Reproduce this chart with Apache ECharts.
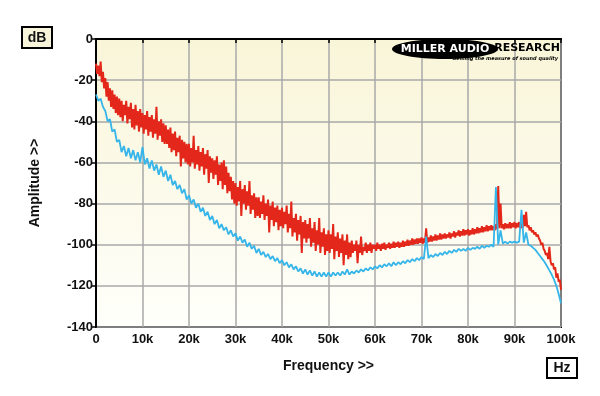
<!DOCTYPE html>
<html>
<head>
<meta charset="utf-8">
<script src="https://cdn.jsdelivr.net/npm/echarts@6/dist/echarts.min.js"></script>
<style>
html,body{margin:0;padding:0;background:#fff;}
#chart{width:600px;height:396px;}
</style>
</head>
<body>
<div id="chart"></div>
<script>
// red trace sampled every 0.25 kHz, blue every 0.5 kHz, 0 .. 100 kHz (dB)
var redStepKHz = 0.25;
var blueStepKHz = 0.5;
var redDb = [
 -12,-17,-13,-18,-11,-21,-16,-24,-19,-28,-21,-30,-24,-33,-25,-34,-27,-36,-28,-37,
 -29,-38,-30,-40,-32,-37,-30,-41,-33,-39,-31,-43,-34,-44,-32,-42,-35,-45,-34,-43,
 -36,-46,-37,-44,-35,-47,-38,-45,-37,-48,-39,-46,-33,-49,-40,-47,-39,-50,-41,-51,
 -42,-51,-44,-53,-43,-55,-46,-54,-45,-57,-48,-55,-47,-62,-49,-58,-50,-60,-51,-61,
 -51,-62,-53,-60,-47,-63,-54,-61,-52,-64,-55,-62,-53,-66,-56,-63,-54,-70,-57,-65,
 -58,-68,-59,-66,-57,-71,-61,-69,-60,-73,-59,-71,-62,-75,-65,-74,-67,-78,-69,-80,
 -70,-81,-72,-79,-69,-86,-73,-80,-71,-83,-74,-81,-69,-85,-76,-83,-75,-87,-77,-86,
 -77,-87,-79,-85,-76,-88,-80,-86,-78,-94,-81,-88,-79,-91,-82,-89,-81,-93,-83,-91,
 -82,-92,-84,-90,-81,-94,-85,-92,-79,-96,-87,-94,-85,-98,-88,-95,-86,-104,-89,-97,
 -88,-99,-90,-97,-87,-101,-92,-99,-89,-103,-93,-100,-87,-104,-94,-101,-92,-105,-95,-103,
 -93,-104,-95,-102,-90,-107,-96,-103,-94,-106,-97,-104,-95,-110,-98,-105,-95,-107,-99,-106,
 -98,-104,-100,-103,-98,-109,-100,-104,-96,-105,-101,-103,-99,-104,-100,-103,-99,-104,-100,-102,
 -100,-103,-99,-102,-100,-103,-99.5,-102,-99,-102.5,-100,-101.5,-99,-102,-99.5,-101.5,-98.5,-101.5,-99,-101,
 -98.5,-101.5,-99,-101,-98,-101,-98.5,-100.5,-97.5,-100.5,-98,-100,-97,-100,-97.5,-99.5,-97,-99.5,-97,-99,
 -96.5,-99.5,-97,-99,-92,-99,-96.5,-98.5,-95.5,-98.5,-96,-98,-95,-98,-95.5,-97.5,-94.5,-97.5,-95,-97,
 -94.5,-97,-95,-96.5,-94,-97,-94.5,-96,-93.5,-96.5,-94,-95.5,-93,-96,-93.5,-95.5,-92.5,-95.5,-93,-95,
 -92.5,-95.5,-93,-95,-92,-95,-92.5,-94.5,-91.5,-94.5,-92,-94,-91,-94,-91.5,-93.5,-90.5,-93.5,-91,-93,
 -90.5,-93,-91,-93,-90,-92.5,-71.5,-92,-80,-92,-90,-92.5,-89.5,-92,-90,-92,-89,-92,-89.5,-91.5,
 -89,-92,-89.5,-91.5,-89,-92,-89.5,-92,-85.5,-91,-84,-91.5,-90.5,-93,-91.5,-94,-93,-95,-94,-96,
 -95,-97,-98,-100,-99,-102,-103,-105,-104,-107,-101,-108,-110,-109,-112,-111,-116,-114,-118,-117,
 -122
];
var blueDb = [
 -27,-30,-29,-33,-35,-40,-39,-45,-44,-50,-49,-55,-52,-57,-53,-58,-54,-59,-55,-60,
 -52.5,-61,-58,-63,-59,-64,-61,-66,-62,-67,-64,-69,-66,-71,-69,-73,-71,-75,-73,-78,
 -76,-80,-78,-82,-80,-84,-82,-86,-84,-88,-86,-90,-88,-92,-90,-93,-91.5,-95,-93,-96,
 -94.5,-98,-96,-99,-97.5,-101,-99,-102,-100.5,-104,-102,-105,-103.5,-106,-104.5,-107,-105.5,-108,-106.5,-109,
 -107.5,-110,-108.5,-111,-109.5,-112,-110.5,-113,-111.5,-114,-112,-114.5,-112.5,-115,-113,-115.5,-113.5,-115.5,-113.5,-115.5,
 -113.5,-115.5,-113.5,-115,-113.5,-115,-113,-114.5,-112,-114.5,-113,-114,-112.5,-113.5,-112,-113,-111.5,-112.5,-111,-112,
 -110.5,-111.5,-110,-111,-109.5,-110.5,-109,-110.5,-108.5,-110,-108.5,-109.5,-108,-109,-107.5,-108.5,-107,-108,-106.5,-107.5,
 -106,-107,-96,-106.5,-105,-106,-104.5,-105.5,-104,-105,-103.5,-104.5,-103,-104,-102.5,-103.5,-102,-103,-102,-103,
 -101.5,-102.5,-101.5,-102,-101,-102,-100.5,-101.5,-100.5,-101,-100,-101,-72,-100,-93,-99.5,-98.5,-99.5,-98.5,-99,
 -98.5,-99,-98.5,-83,-99,-94,-100,-100.5,-101.5,-102.5,-104,-105.5,-107,-108.5,-110.5,-112.5,-114.5,-117,-120,-124,
 -128.5
];
var xTicks = ['0','10k','20k','30k','40k','50k','60k','70k','80k','90k','100k'];
var yTicks = [0,-20,-40,-60,-80,-100,-120,-140];

function pairs(arr, step){
	return arr.map(function(v,i){ return [i*step, v]; });
}

var labelFont = {color:'#111', fontWeight:'bold', fontSize:13, fontFamily:'Liberation Sans, Arial, sans-serif'};

var myChart = echarts.init(document.getElementById('chart'), null, {renderer:'canvas'});
myChart.setOption({
	animation:false,
	backgroundColor:'#fff',
	grid:{
		left:96, right:39, top:39, bottom:69,
		show:true,
		borderColor:'#000', borderWidth:2,
		backgroundColor: new echarts.graphic.LinearGradient(0,0,0,1,[
			{offset:0,color:'#f9f5d8'},
			{offset:1,color:'#fffffb'}
		])
	},
	xAxis:{
		type:'value', min:0, max:100, interval:10,
		name:'Frequency >>', nameLocation:'middle', nameGap:32,
		nameTextStyle:{color:'#111', fontWeight:'bold', fontSize:14, fontFamily:'Liberation Sans, Arial, sans-serif'},
		axisLine:{lineStyle:{color:'#000',width:2}},
		axisTick:{show:true, length:4, lineStyle:{color:'#000',width:1.5}},
		axisLabel:Object.assign({margin:6, formatter:function(v){ return xTicks[Math.round(v/10)]; }}, labelFont),
		splitLine:{show:true, lineStyle:{color:'#a8a8a8', width:1.5}}
	},
	yAxis:{
		type:'value', min:-140, max:0, interval:20,
		name:'Amplitude >>', nameLocation:'middle', nameGap:54, nameRotate:90,
		nameTextStyle:{color:'#111', fontWeight:'bold', fontSize:14, fontFamily:'Liberation Sans, Arial, sans-serif'},
		axisLine:{lineStyle:{color:'#000',width:2}},
		axisTick:{show:true, length:5, lineStyle:{color:'#000',width:1.5}},
		axisLabel:Object.assign({margin:3, formatter:function(v){ return yTicks.indexOf(v) >= 0 ? String(v) : ''; }}, labelFont),
		splitLine:{show:true, lineStyle:{color:'#a8a8a8', width:1.5}}
	},
	graphic:[
		{type:'rect', shape:{x:22,y:27,width:30,height:21}, style:{fill:'#f7f4da', stroke:'#000', lineWidth:2}},
		{type:'text', x:37, y:38, style:{text:'dB', fill:'#111', font:'bold 14px Liberation Sans, Arial', align:'center', verticalAlign:'middle'}},
		{type:'rect', shape:{x:547,y:358,width:30,height:20}, style:{fill:'#fff', stroke:'#000', lineWidth:2}},
		{type:'text', x:562, y:368, style:{text:'Hz', fill:'#111', font:'bold 14px Liberation Sans, Arial', align:'center', verticalAlign:'middle'}},
		// logo
		{type:'ellipse', shape:{cx:445, cy:49, rx:53, ry:10}, style:{fill:'#000'}, z:10},
		{type:'text', x:445, y:49, z:11, style:{text:'MILLER AUDIO', fill:'#fff', font:'bold 11px DejaVu Sans', align:'center', verticalAlign:'middle'}},
		{type:'text', x:527, y:48, z:11, style:{text:'RESEARCH', fill:'#000', font:'bold 11px DejaVu Sans', align:'center', verticalAlign:'middle'}},
		{type:'text', x:558, y:59, z:11, style:{text:'Getting the measure of sound quality', fill:'#000', font:'italic bold 5px DejaVu Sans', align:'right', verticalAlign:'middle'}}
	],
	series:[
		{name:'red', type:'line', data:pairs(redDb, redStepKHz), showSymbol:false, lineStyle:{color:'#e3281b', width:2}, z:3},
		{name:'blue', type:'line', data:pairs(blueDb, blueStepKHz), showSymbol:false, lineStyle:{color:'#35b5e9', width:1.8}, z:4}
	]
});
</script>
</body>
</html>
